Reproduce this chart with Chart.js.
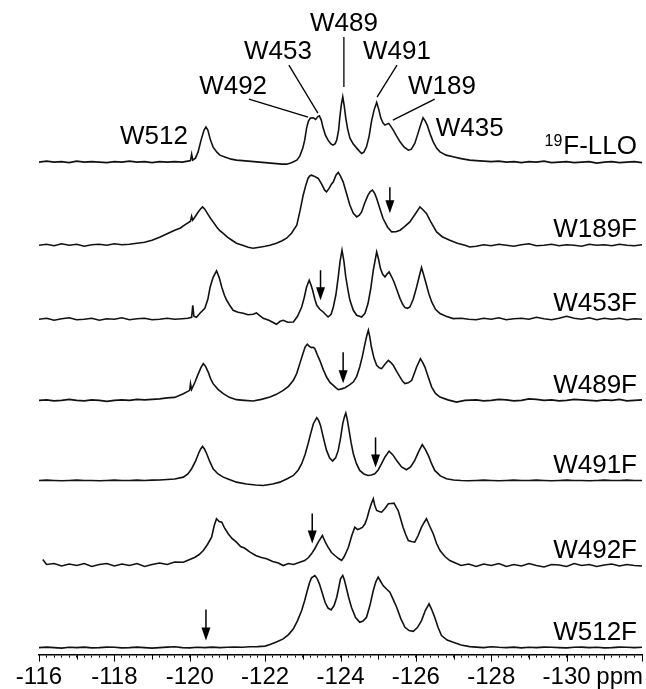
<!DOCTYPE html>
<html><head><meta charset="utf-8">
<script src="https://cdn.jsdelivr.net/npm/chart.js@4.4.1/dist/chart.umd.min.js"></script>
<style>html,body{margin:0;padding:0;background:#fff;}#wrap{width:646px;height:689px;position:relative;}</style>
</head><body><div id="wrap"><canvas id="c" width="646" height="689"></canvas></div>
<script>
// ---- data (ppm, intensity in arbitrary units) ----
const traceNames = ['19F-LLO','W189F','W453F','W489F','W491F','W492F','W512F'];
const offsets = [492, 409, 335, 254, 174, 89, 7];
const majorTicks = [-116,-118,-120,-122,-124,-126,-128,-130];
const axisUnit = 'ppm';

const ppmRight = [-127.6,-127.8,-128.0,-128.2,-128.4,-128.6,-128.8,-129.0,-129.2,-129.4,-129.6,-129.8,-130.0,-130.2,-130.4,-130.6,-130.8,-131.0,-131.2,-131.4,-131.6,-131.8,-132.0];

const ppmLLO = [-116.0,-116.2,-116.4,-116.6,-116.8,-117.0,-117.2,-117.4,-117.6,-117.8,-118.0,-118.2,-118.4,-118.6,-118.8,-119.0,-119.2,
 -119.4,-119.6,-119.8,-119.95,-120.02,-120.05,-120.08,-120.15,-120.22,-120.30,-120.38,-120.43,-120.48,-120.55,-120.62,-120.72,-120.80,-120.95,-121.10,-121.24,-121.40,-121.55,-121.70,-121.85,-122.00,-122.15,-122.30,-122.45,-122.57,-122.70,-122.84,-122.92,-123.00,-123.05,-123.10,-123.15,-123.20,-123.28,-123.34,-123.40,-123.44,-123.49,-123.54,-123.60,-123.67,-123.74,-123.80,-123.86,-123.90,-123.95,-123.98,-124.02,-124.06,-124.10,-124.14,-124.19,-124.25,-124.34,-124.43,-124.50,-124.56,-124.62,-124.69,-124.76,-124.82,-124.89,-124.96,-125.02,-125.07,-125.13,-125.18,-125.23,-125.28,-125.34,-125.40,-125.49,-125.58,-125.69,-125.80,-125.88,-125.97,-126.05,-126.11,-126.19,-126.25,-126.30,-126.38,-126.46,-126.55,-126.64,-126.80,-126.99,-127.20,-127.43,
 ...ppmRight];
const intLLO = [0,1,0,0.5,-0.5,1,0,0.5,0,-0.5,0.5,0,1,0,0.5,-0.5,0.5,
 0,0.5,0,1,1.5,8,2,4,10,22,32,35,32,22,15,10,7,5,3,2,1.5,1,0.5,0,-0.5,-1,-1.5,-2,-2,-0.5,2,6,14,22,34,41,44,44.3,42.7,45.5,46.3,42,34,27,22,18.5,17,18.5,22,32,44,57,65.3,56,44,33,24,18,14,11,8.7,10,15.3,26,40.3,52,59.7,52,44,39,37,38,38.7,35.5,32,26,20.3,15,12,13,18.7,28,35.3,44.3,41,37,28,20.3,14,10.3,7,5.3,3.5,2,
 1.5,1,0.5,1,0,0.5,-0.5,0.5,0,1,-0.5,0,0.5,-0.5,0,0.5,-1,0,0.5,-0.5,0,0.5,-0.5];

const ppmW189F = [-116.0,-116.2,-116.4,-116.6,-116.8,-117.0,-117.2,-117.4,-117.6,-117.8,-118.0,-118.2,-118.4,
 -118.6,-118.8,-119.0,-119.2,-119.4,-119.6,-119.74,-119.9,-120.02,-120.05,-120.08,-120.15,-120.22,-120.28,-120.34,-120.40,-120.48,-120.55,-120.62,-120.72,-120.80,-120.88,-121.00,-121.12,-121.24,-121.40,-121.55,-121.68,-121.85,-122.00,-122.13,-122.30,-122.45,-122.57,-122.70,-122.84,-122.93,-123.01,-123.08,-123.14,-123.19,-123.23,-123.30,-123.41,-123.50,-123.58,-123.63,-123.70,-123.76,-123.81,-123.88,-123.94,-124.00,-124.07,-124.15,-124.25,-124.34,-124.43,-124.50,-124.56,-124.64,-124.73,-124.79,-124.85,-124.91,-124.96,-125.05,-125.13,-125.25,-125.36,-125.47,-125.58,-125.70,-125.84,-125.98,-126.11,-126.20,-126.28,-126.40,-126.55,-126.70,-126.90,-127.10,-127.30,-127.43,
 ...ppmRight];
const intW189F = [0,1,-0.5,1.5,0,1,-1,0.5,1,0,1.5,0.5,1,
 2,3,5,8,11.5,15,17,21,24,29,25,29,33,36,38.3,36,31,27,23.3,18,14.5,12,8,5,2,0,-2,-3,-2,-1,0,2,4.5,7,12,20,35,50,60,67,69.5,70,69,66.7,61,55,53.3,57,61,63.3,70,72.7,69,63.3,53,40,32,28.3,30,33.3,42,50,53.5,55,51.5,46.7,36,26.7,18,13.3,13.5,15,18.5,23.3,31,38.3,35,31.7,23,13.3,8.5,5,2,0,-1.7,
 -1,0.5,-0.5,1,0,-1,0.5,1.5,-0.5,0,1,-0.5,0.5,0,-1,1,0,0.5,-0.5,1,0,-0.5,0.5];

const ppmW453F = [-116.0,-116.2,-116.4,-116.6,-116.8,-117.0,-117.2,-117.4,-117.6,-117.8,-118.0,-118.2,-118.4,-118.6,-118.8,-119.0,-119.2,-119.4,-119.6,-119.8,
 -119.95,-120.05,-120.08,-120.11,-120.18,-120.27,-120.40,-120.48,-120.54,-120.62,-120.71,-120.78,-120.85,-120.92,-120.98,-121.06,-121.15,-121.28,-121.42,-121.55,-121.68,-121.77,-121.85,-121.95,-122.10,-122.20,-122.30,-122.40,-122.48,-122.60,-122.75,-122.86,-122.97,-123.04,-123.10,-123.17,-123.22,-123.26,-123.32,-123.37,-123.45,-123.54,-123.67,-123.75,-123.81,-123.88,-123.94,-123.99,-124.04,-124.09,-124.14,-124.20,-124.25,-124.34,-124.43,-124.56,-124.65,-124.73,-124.80,-124.87,-124.96,-125.01,-125.06,-125.12,-125.18,-125.23,-125.29,-125.35,-125.42,-125.50,-125.58,-125.65,-125.71,-125.78,-125.84,-125.93,-126.02,-126.09,-126.15,-126.21,-126.27,-126.34,-126.42,-126.52,-126.64,-126.80,-126.99,-127.20,-127.40,
 ...ppmRight];
const intW453F = [0,1,-1,0.5,1.5,-0.5,0,1,-1,0.5,0,1.5,-0.5,0.5,1,-0.5,0,1,0,0.5,
 1,2,14,3,2,6,11,20,32,42,48.3,42,32,24,19,14,9,7,6,4.5,5,6.3,4,1,-1,-3,-5,-2,-1,-3,-2.7,3,12.3,22,32.3,39,34,29,20,14,10,7.3,2.3,5,12.3,25,42.3,58,69,58,42.3,29,19,9,4,2.3,6,15.7,30,49,67.3,60,50.7,45,42.3,45,47.3,43,37.3,29,20.7,15,11.7,11,12.3,20,32.3,43,51.7,44,35.7,26,17.3,10,5.7,3,0.7,1,0,
 -0.5,1,0,1.5,-0.5,0.5,1,0,2,0.5,-0.5,1,3,1,0,1.5,-0.5,1,0,1,-0.5,0.5,0];

const ppmW489F = [-116.0,-116.2,-116.4,-116.6,-116.8,-117.0,-117.2,-117.4,-117.6,-117.8,-118.0,-118.2,-118.4,-118.6,-118.8,-119.0,-119.2,-119.4,
 -119.6,-119.83,-119.95,-120.00,-120.02,-120.05,-120.14,-120.22,-120.30,-120.36,-120.42,-120.49,-120.55,-120.62,-120.75,-120.89,-121.05,-121.24,-121.45,-121.68,-121.90,-122.13,-122.30,-122.48,-122.62,-122.75,-122.84,-122.92,-122.99,-123.06,-123.12,-123.17,-123.23,-123.28,-123.32,-123.38,-123.45,-123.54,-123.63,-123.72,-123.81,-123.88,-123.94,-124.03,-124.12,-124.22,-124.34,-124.43,-124.51,-124.58,-124.65,-124.70,-124.74,-124.78,-124.82,-124.89,-124.96,-125.03,-125.09,-125.18,-125.27,-125.33,-125.40,-125.49,-125.58,-125.65,-125.71,-125.80,-125.89,-125.96,-126.02,-126.12,-126.18,-126.24,-126.33,-126.42,-126.52,-126.64,-126.85,-127.08,-127.30,
 ...ppmRight];
const intW489F = [0,0.5,-0.5,0,1,0,-0.5,0.5,0,-1,0,0.5,0,1,0.5,1,1.5,2.5,
 3,6.7,9,10,16.7,11,18.3,26,33,36.7,34,28.3,22,16.7,11,6.7,3,0.7,0,-0.7,1,3.3,6,10,14,20,27,36.7,45,53.3,56,54,52.7,53,51.7,46,40,31,23.3,18,15,12.5,10.7,11.5,12.7,15,18.3,24,33.3,44,56.7,65,70,63,53.3,42,35,32.5,31.7,36,40,38,35,29,23.3,19,16.7,17.5,20,27,33.3,41.7,38,33.3,23,13.3,7,3.3,0.5,-1.7,0,
 0.5,-0.5,0,1,0.5,-0.5,0,1.5,1,0,0.5,-0.5,0,1,0.5,0,-0.5,0.5,0,1,-0.5,0,0.5];

const ppmW491F = [-116.0,-116.2,-116.4,-116.6,-116.8,-117.0,-117.2,-117.4,-117.6,-117.8,-118.0,-118.2,-118.4,-118.6,-118.8,-119.0,-119.2,-119.4,
 -119.6,-119.83,-119.95,-120.05,-120.15,-120.23,-120.29,-120.34,-120.39,-120.45,-120.53,-120.62,-120.75,-120.89,-121.05,-121.24,-121.50,-121.75,-121.95,-122.20,-122.39,-122.60,-122.75,-122.88,-122.97,-123.06,-123.14,-123.21,-123.28,-123.37,-123.42,-123.47,-123.55,-123.63,-123.71,-123.79,-123.87,-123.94,-124.00,-124.06,-124.10,-124.14,-124.18,-124.22,-124.28,-124.34,-124.42,-124.51,-124.62,-124.73,-124.82,-124.91,-125.00,-125.09,-125.18,-125.29,-125.39,-125.49,-125.62,-125.75,-125.86,-125.97,-126.07,-126.17,-126.25,-126.33,-126.42,-126.50,-126.65,-126.81,-127.00,-127.20,-127.40,
 ...ppmRight];
const intW491F = [0,0.3,0,-0.3,0,0.3,0,0,-0.3,0,0.3,0,0,0.3,0,0.3,0.5,1,
 1.5,3.3,6.5,11.7,19,26.7,31.5,34,31.5,26.7,19,11.7,6.5,3.3,1,-1.7,-3.5,-4.5,-5,-3.5,-1.7,2,5,10.5,16.7,26,36.7,47,56.7,62.7,60,55,42,30,22.5,19.3,22.5,30,42,56.7,63,67.3,61,51.7,38,26.7,17,10,6.5,5,5.5,6.7,10.5,16.7,23.5,29.3,25.5,20,13.5,10.7,13.5,20,28.5,35.7,31,25,16.5,10,4.5,1.7,0.5,0,-0.3,
 0,0.3,0,-0.3,0,0.3,0,0,0.3,0,-0.3,0,0.3,0,0,-0.3,0,0.3,0,0,0.3,0,0];

const ppmW492F = [-116.1,-116.2,-116.4,-116.6,-116.8,-117.0,-117.2,-117.4,-117.6,-117.8,-118.0,-118.2,-118.4,-118.6,-118.8,-119.0,-119.2,-119.4,
 -119.6,-119.83,-120.00,-120.14,-120.25,-120.36,-120.47,-120.58,-120.65,-120.71,-120.78,-120.85,-120.93,-121.02,-121.12,-121.24,-121.35,-121.45,-121.60,-121.75,-121.90,-122.04,-122.20,-122.35,-122.48,-122.62,-122.75,-122.92,-123.05,-123.15,-123.23,-123.32,-123.41,-123.52,-123.60,-123.67,-123.76,-123.85,-123.95,-124.03,-124.10,-124.16,-124.21,-124.30,-124.38,-124.45,-124.51,-124.58,-124.65,-124.71,-124.76,-124.82,-124.87,-124.91,-124.96,-125.03,-125.09,-125.18,-125.27,-125.35,-125.42,-125.48,-125.53,-125.60,-125.66,-125.73,-125.80,-125.88,-125.97,-126.06,-126.15,-126.22,-126.28,-126.36,-126.46,-126.55,-126.64,-126.77,-126.90,-127.05,-127.20,-127.40,
 ...ppmRight];
const intW492F = [6,1,2,-0.5,1.5,0,2,-1,1,2,-0.5,1.5,0,2,-1,1,2.5,1,
 3.5,3.3,6,8.3,11,15,21,28.3,40,46.7,44,43.3,37,31.7,27,23.3,19,17.5,13.3,10,8,6.7,4,2.5,0,2,1,3.3,5,8,11.7,17,23.3,30,23,18.3,13,10,7,5,9,14,18.3,30,38.3,36,36.7,38,41.7,48,55,62,66.7,60,55,54,53.3,57,61.7,62,62.3,58,55,46,38.3,31,25,24,23.3,30,38.3,43,46.7,40,31.7,22,15,9,5,2.5,0,1.5,
 -1,1.5,0,2,-1,1,-0.5,2,0,-1.5,1,0.5,-1,2,0,1,-1,0.5,1.5,-0.5,1,0,-0.5];

const ppmW512F = [-116.0,-116.2,-116.4,-116.6,-116.8,-117.0,-117.2,-117.4,-117.6,-117.8,-118.0,-118.2,-118.4,-118.6,-118.8,-119.0,-119.2,-119.4,-119.6,-119.8,-120.0,-120.2,-120.4,-120.6,-120.8,-121.0,-121.2,-121.4,-121.6,-121.8,
 -122.00,-122.13,-122.30,-122.48,-122.62,-122.75,-122.86,-122.97,-123.05,-123.12,-123.18,-123.23,-123.32,-123.38,-123.44,-123.52,-123.59,-123.67,-123.75,-123.83,-123.90,-123.96,-124.00,-124.06,-124.10,-124.14,-124.21,-124.29,-124.40,-124.51,-124.60,-124.69,-124.78,-124.87,-124.94,-125.00,-125.06,-125.13,-125.22,-125.31,-125.40,-125.49,-125.60,-125.71,-125.82,-125.93,-126.04,-126.15,-126.25,-126.35,-126.42,-126.50,-126.59,-126.68,-126.83,-126.99,-127.20,-127.43,
 ...ppmRight];
const intW512F = [0,0.5,0,-0.5,0.3,0,0.5,-0.3,0,0.5,0.3,-0.3,0,0.5,0,-0.5,0,0.5,0.8,0,-0.3,0.3,0,0.5,0,0.3,0.5,0.3,0.8,1,
 1.5,3,5.5,8.7,13,18.7,27,37,47,57,65,69.7,72,69,63.7,54,45.3,39.5,37.7,42,50.3,61,68.7,72,68,62,51,40.3,30,25.3,26.5,30.3,42,57,66,70.3,66.5,62,58.5,55.3,48,40.3,29,20.3,17,16.3,20,27,37,43.7,38,30.3,20,12,7.5,5.3,2.5,1,
 0.5,0,0.8,0.3,0,0.5,-0.3,0.3,0,0.5,0.3,0,-0.3,0.3,0.5,0,0.3,-0.3,0,0.5,0.3,0,0.3];

const tracePpm = [ppmLLO, ppmW189F, ppmW453F, ppmW489F, ppmW491F, ppmW492F, ppmW512F];
const traceInt = [intLLO, intW189F, intW453F, intW489F, intW491F, intW492F, intW512F];

// peak assignment labels on the top spectrum: [text, ppm, y]
const peakLabels = [['W489',-124.09,630],['W453',-122.34,602],['W491',-125.50,602],['W492',-121.15,567],['W189',-126.69,567],['W435',-127.43,525],['W512',-119.05,517]];
// leader lines: [ppm1, y1, ppm2, y2]
const leaderLines = [[-124.09,617,-124.09,567],[-122.63,589,-123.40,541],[-125.50,589,-124.97,557],[-121.57,555,-123.14,537],[-126.50,555,-125.39,534]];
// arrows marking the missing resonance: [ppm, yTop, yTip]
const arrows = [[-125.31,467,441],[-123.47,384,354],[-124.07,302,271],[-124.93,217,187],[-123.25,141,111],[-120.43,45,14]];

const FONT = "'Liberation Sans', Arial, Helvetica, sans-serif";

const datasets = tracePpm.map((pp, k) => {
  const vals = traceInt[k];
  const n = Math.min(pp.length, vals.length);
  const pts = [];
  for (let i = 0; i < n; i++) pts.push({x: pp[i], y: offsets[k] + vals[i]});
  return {label: traceNames[k], data: pts, borderColor: '#111', borderWidth: 1.6, pointRadius: 0, fill: false, tension: 0};
});

const minorTicks = [];
for (let i = 0; i <= 80; i++) minorTicks.push(Math.round((-132 + i * 0.2) * 10) / 10);

const annot = {
  id: 'annot',
  afterDraw(chart) {
    const {ctx, scales: {x, y}} = chart;
    ctx.save();
    ctx.strokeStyle = '#000';
    ctx.fillStyle = '#000';
    ctx.lineWidth = 1;
    for (let v = -116; v >= -132; v--) {
      const px = Math.round(x.getPixelForValue(v)) + 0.5;
      const len = (v % 2 === 0) ? 7 : 5;
      ctx.beginPath(); ctx.moveTo(px, x.top); ctx.lineTo(px, x.top + len); ctx.stroke();
    }
    ctx.font = `24px ${FONT}`;
    ctx.textAlign = 'right'; ctx.textBaseline = 'middle';
    ctx.fillText(axisUnit, x.right + 1, x.top + 23);
    ctx.font = `26px ${FONT}`;
    traceNames.forEach((t, k) => {
      const yy = y.getPixelForValue(offsets[k] + 15);
      const xr = x.right - 5;
      if (t.startsWith('19')) {
        const rest = t.slice(2);
        const w = ctx.measureText(rest).width;
        ctx.fillText(rest, xr, yy);
        ctx.font = `16px ${FONT}`;
        ctx.fillText('19', xr - w - 1, yy - 6);
        ctx.font = `26px ${FONT}`;
      } else {
        ctx.fillText(t, xr, yy);
      }
    });
    ctx.textAlign = 'center';
    peakLabels.forEach(([t, p, v]) => ctx.fillText(t, x.getPixelForValue(p), y.getPixelForValue(v)));
    ctx.lineWidth = 1.3;
    leaderLines.forEach(([p1, v1, p2, v2]) => {
      ctx.beginPath();
      ctx.moveTo(x.getPixelForValue(p1), y.getPixelForValue(v1));
      ctx.lineTo(x.getPixelForValue(p2), y.getPixelForValue(v2));
      ctx.stroke();
    });
    ctx.lineWidth = 1.5;
    arrows.forEach(([p, v1, v2]) => {
      const px = x.getPixelForValue(p), y1 = y.getPixelForValue(v1), y2 = y.getPixelForValue(v2);
      ctx.beginPath(); ctx.moveTo(px, y1); ctx.lineTo(px, y2 - 12); ctx.stroke();
      ctx.beginPath(); ctx.moveTo(px - 4.5, y2 - 13); ctx.lineTo(px + 4.5, y2 - 13); ctx.lineTo(px, y2); ctx.closePath(); ctx.fill();
    });
    ctx.restore();
  }
};

new Chart(document.getElementById('c'), {
  type: 'line',
  data: {datasets},
  options: {
    responsive: false, animation: false, devicePixelRatio: 1,
    layout: {padding: {left: 39, right: 4, top: 0, bottom: -9}},
    plugins: {legend: {display: false}, tooltip: {enabled: false}},
    scales: {
      x: {
        type: 'linear', reverse: true, min: -132, max: -116,
        afterBuildTicks: (s) => { s.ticks = minorTicks.map(v => ({value: v})); },
        ticks: {
          autoSkip: false, maxRotation: 0, minRotation: 0, padding: 7, color: '#000',
          font: {family: FONT, size: 24, lineHeight: 1.1},
          callback: (v) => majorTicks.some(t => Math.abs(t - v) < 1e-6) ? String(Math.round(v)) : ''
        },
        grid: {display: true, drawOnChartArea: false, drawTicks: true, tickLength: 3, color: '#000', lineWidth: 1},
        border: {display: true, color: '#000', width: 1.5}
      },
      y: {display: false, min: 0, max: 654}
    }
  },
  plugins: [annot]
});
</script></body></html>
